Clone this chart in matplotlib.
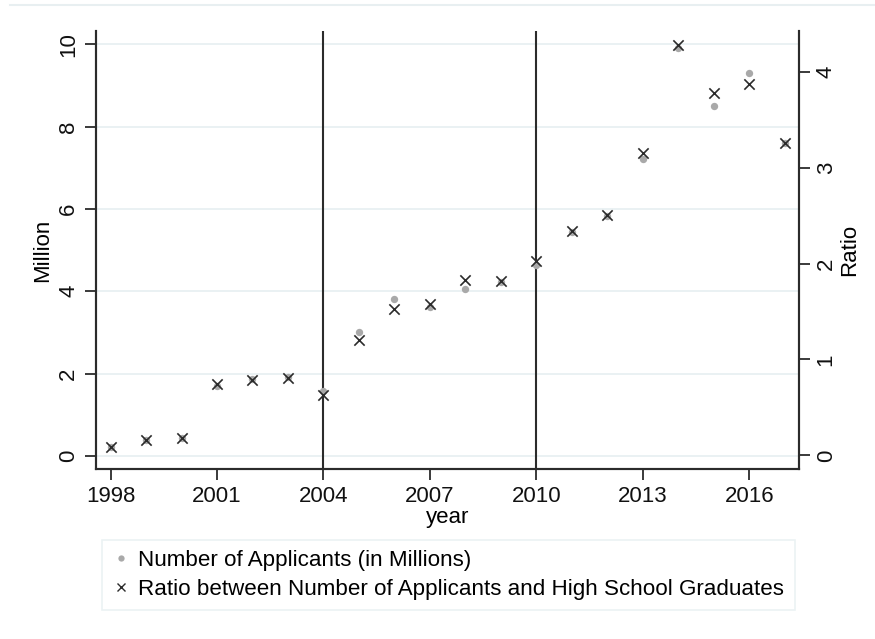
import matplotlib
matplotlib.use("Agg")
import matplotlib.pyplot as plt
from matplotlib.lines import Line2D

plt.rcParams['font.family'] = ['Liberation Sans', 'DejaVu Sans']

# years and the two series
years = [1998, 1999, 2000, 2001, 2002, 2003, 2004, 2005, 2006, 2007,
         2008, 2009, 2010, 2011, 2012, 2013, 2014, 2015, 2016, 2017]
applicants = [0.22, 0.38, 0.43, 1.70, 1.87, 1.92, 1.57, 3.01, 3.80, 3.62,
              4.06, 4.22, 4.64, 5.43, 5.83, 7.20, 9.90, 8.49, 9.30, 7.60]
ratio = [0.09, 0.16, 0.18, 0.74, 0.79, 0.81, 0.625, 1.20, 1.53, 1.58,
         1.83, 1.82, 2.03, 2.34, 2.51, 3.15, 4.28, 3.78, 3.875, 3.26]

year_ticks = [1998, 2001, 2004, 2007, 2010, 2013, 2016]
left_ticks = [0, 2, 4, 6, 8, 10]
right_ticks = [0, 1, 2, 3, 4]
reform_years = [2004, 2010]

dark = '#2b2b2b'
grid = '#e6eff1'

fig = plt.figure(figsize=(8.75, 6.39), dpi=100)
ax = fig.add_axes([0.1097, 0.2660, 0.8034, 0.6855])
ax2 = ax.twinx()

# light horizontal grid on the left scale
for t in left_ticks:
    ax.axhline(t, color=grid, lw=1.2, zorder=0)

for yr in reform_years:
    ax.axvline(yr, color=dark, lw=1.5, zorder=1)

ax.scatter(years, applicants, s=28, color='#a9a9a9', marker='o',
           linewidths=0, zorder=3)
ax2.scatter(years, ratio, s=55, color=dark, marker='x', linewidths=1.2,
            zorder=4)

ax.set_xlim(1997.59, 2017.40)
ax.set_ylim(-0.32, 10.32)
ax2.set_ylim(-0.143, 4.425)

ax.set_xticks(year_ticks)
ax.set_yticks(left_ticks)
ax2.set_yticks(right_ticks)

for a in (ax, ax2):
    for side in ('left', 'right', 'bottom'):
        a.spines[side].set_color(dark)
        a.spines[side].set_linewidth(1.5)
    a.spines['top'].set_visible(False)
    a.tick_params(direction='out', length=8, width=1.3, color=dark,
                  labelsize=16, labelcolor='#111111', pad=4)

ax.tick_params(axis='y', labelrotation=90)
ax2.tick_params(axis='y', labelrotation=90)
for lab in ax.get_yticklabels():
    lab.set_va('center')
for lab in ax2.get_yticklabels():
    lab.set_va('center')

ax.set_xlabel('year', fontsize=16, labelpad=0)
ax.set_ylabel('Million', fontsize=16, labelpad=4)
ax2.set_ylabel('Ratio', fontsize=16, labelpad=2)

handles = [
    Line2D([], [], ls='none', marker='o', ms=4.5, color='#a9a9a9',
           mec='none'),
    Line2D([], [], ls='none', marker='x', ms=6, color=dark, mew=1.0),
]
labels = ['Number of Applicants (in Millions)',
          'Ratio between Number of Applicants and High School Graduates']
leg = fig.legend(handles, labels, loc='upper left',
                 bbox_to_anchor=(0.1165, 0.0438, 0.7920, 0.1111),
                 mode='expand', fontsize=16.1, frameon=True, fancybox=False,
                 handlelength=0.8, handletextpad=0.35, borderpad=0.45,
                 labelspacing=0.35, borderaxespad=0)
leg.get_frame().set_edgecolor(grid)
leg.get_frame().set_linewidth(1.2)

# faint outer border line along the top
fig.add_artist(Line2D([0.011, 1.0], [0.992, 0.992], color='#e8eff1',
                      lw=1.5, transform=fig.transFigure))

fig.savefig('out.png', dpi=100, facecolor='white')
